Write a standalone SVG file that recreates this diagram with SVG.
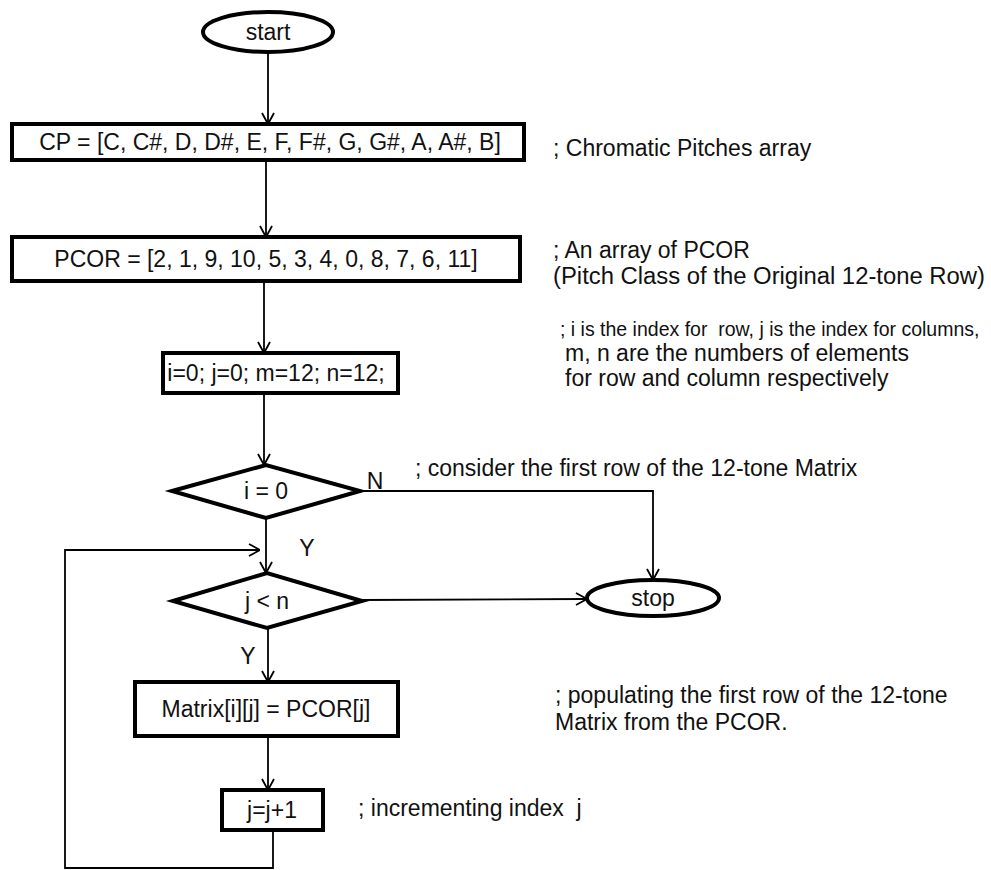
<svg xmlns="http://www.w3.org/2000/svg" width="991" height="870" viewBox="0 0 991 870">
<style>
.shape{fill:#fff;stroke:#000;stroke-width:4}
.conn{fill:none;stroke:#000;stroke-width:1.8}
text{font-family:"Liberation Sans",Arial,sans-serif;font-size:23px;fill:#111;white-space:pre}
.c{text-anchor:middle}
</style>
<defs>
<marker id="arr" viewBox="0 0 12 14" refX="12" refY="7" markerWidth="12" markerHeight="14" markerUnits="userSpaceOnUse" orient="auto">
<path d="M1,1 L12,7 L1,13" fill="none" stroke="#000" stroke-width="1.8"/>
</marker>
</defs>
<rect width="991" height="870" fill="#fff"/>
<g id="connectors">
<path class="conn" d="M268,52 L268,124" marker-end="url(#arr)"/>
<path class="conn" d="M266,160 L266,237" marker-end="url(#arr)"/>
<path class="conn" d="M264,281 L264,353" marker-end="url(#arr)"/>
<path class="conn" d="M264,393 L264,465" marker-end="url(#arr)"/>
<path class="conn" d="M360,491 L653,491 L653,580" marker-end="url(#arr)"/>
<path class="conn" d="M266,518 L266,573" marker-end="url(#arr)"/>
<path class="conn" d="M362,600 L587,599" marker-end="url(#arr)"/>
<path class="conn" d="M268,628 L268,682" marker-end="url(#arr)"/>
<path class="conn" d="M268,736 L268,790" marker-end="url(#arr)"/>
<path class="conn" d="M273,830 L273,868 L65,868 L65,550 L260,550" marker-end="url(#arr)"/>
<text x="375" y="489" class="c">N</text>
<text x="307" y="556" class="c">Y</text>
<text x="248" y="664" class="c">Y</text>
</g>
<g id="start">
<ellipse class="shape" cx="268" cy="32" rx="65" ry="20"/>
<text x="268" y="40" class="c">start</text>
</g>
<g id="cp">
<rect class="shape" x="12" y="124" width="512" height="36"/>
<text x="270" y="150" class="c">CP = [C, C#, D, D#, E, F, F#, G, G#, A, A#, B]</text>
</g>
<g id="pcor">
<rect class="shape" x="12" y="237" width="508" height="44"/>
<text x="266" y="267" class="c">PCOR = [2, 1, 9, 10, 5, 3, 4, 0, 8, 7, 6, 11]</text>
</g>
<g id="init">
<rect class="shape" x="163" y="353" width="235" height="40"/>
<text x="276" y="381" class="c">i=0; j=0; m=12; n=12;</text>
</g>
<g id="cond-i">
<polygon class="shape" points="172,491 266,465 360,491 266,518"/>
<text x="266" y="499" class="c">i = 0</text>
</g>
<g id="cond-j">
<polygon class="shape" points="173,601 267,573 362,601 267,628"/>
<text x="267" y="609" class="c">j &lt; n</text>
</g>
<g id="stop">
<ellipse class="shape" cx="653" cy="598" rx="66" ry="18"/>
<text x="653" y="606" class="c">stop</text>
</g>
<g id="assign">
<rect class="shape" x="135" y="682" width="263" height="54"/>
<text x="266" y="717" class="c">Matrix[i][j] = PCOR[j]</text>
</g>
<g id="incr">
<rect class="shape" x="222" y="790" width="101" height="40"/>
<text x="272" y="818" class="c">j=j+1</text>
</g>
<g id="notes">
<text x="553" y="156">; Chromatic Pitches array</text>
<text x="553" y="258">; An array of PCOR</text>
<text x="553" y="284" textLength="432" lengthAdjust="spacingAndGlyphs">(Pitch Class of the Original 12-tone Row)</text>
<text x="560" y="336" style="font-size:19.5px">; i is the index for  row, j is the index for columns,</text>
<text x="565" y="361">m, n are the numbers of elements</text>
<text x="565" y="386">for row and column respectively</text>
<text x="415" y="476">; consider the first row of the 12-tone Matrix</text>
<text x="555" y="703">; populating the first row of the 12-tone</text>
<text x="555" y="730">Matrix from the PCOR.</text>
<text x="358" y="816">; incrementing index  j</text>
</g>
</svg>
